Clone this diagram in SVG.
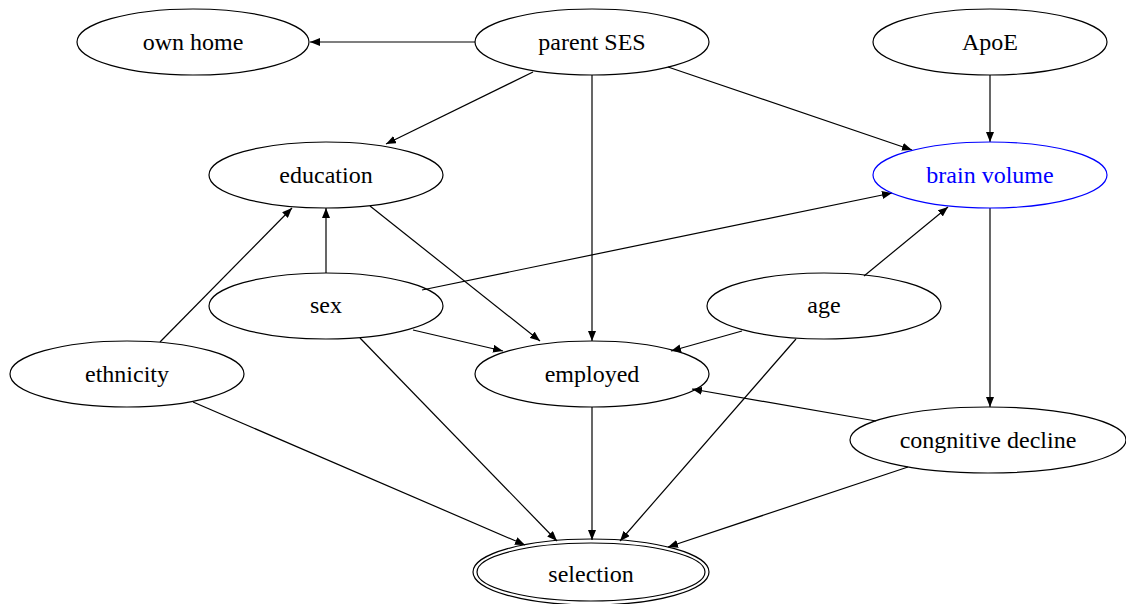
<svg xmlns="http://www.w3.org/2000/svg" width="1126" height="604" viewBox="0 0 1126 604">
<defs>
<marker id="ah" markerWidth="11" markerHeight="8" refX="10" refY="4" orient="auto" markerUnits="userSpaceOnUse">
<path d="M0,0 L10,4 L0,8 Z" fill="#000"/>
</marker>
<style>
.n ellipse{fill:none;stroke:#000;stroke-width:1.2}
.n text{font-family:"Liberation Serif","DejaVu Serif",serif;font-size:24px;text-anchor:middle;fill:#000}
#brain ellipse{stroke:#0000ff}
#brain text{fill:#0000ff}
#edges line{stroke:#000;stroke-width:1.2;marker-end:url(#ah)}
</style>
</defs>
<rect width="1126" height="604" fill="#fff"/>
<g id="edges">
<line x1="475" y1="42" x2="310" y2="42"/>
<line x1="533" y1="72" x2="386" y2="144"/>
<line x1="592" y1="75" x2="592" y2="341"/>
<line x1="668" y1="67" x2="912" y2="150"/>
<line x1="990" y1="75" x2="990" y2="142"/>
<line x1="326" y1="273" x2="326" y2="208"/>
<line x1="422" y1="290" x2="892" y2="193"/>
<line x1="413" y1="330" x2="503" y2="351"/>
<line x1="360" y1="338" x2="557" y2="541"/>
<line x1="370" y1="206" x2="540" y2="341"/>
<line x1="160" y1="342" x2="292" y2="208"/>
<line x1="193" y1="402" x2="525" y2="545"/>
<line x1="864" y1="276" x2="948" y2="207"/>
<line x1="742" y1="331" x2="671" y2="351"/>
<line x1="796" y1="339" x2="620" y2="541"/>
<line x1="592" y1="407" x2="592" y2="540"/>
<line x1="990" y1="208" x2="990" y2="407"/>
<line x1="876" y1="421" x2="692" y2="389"/>
<line x1="908" y1="467" x2="668" y2="547"/>
</g>
<g id="ownhome" class="n"><ellipse cx="193" cy="42" rx="116" ry="33"/><text x="193" y="50">own home</text></g>
<g id="parentses" class="n"><ellipse cx="592" cy="42" rx="117" ry="33"/><text x="592" y="50">parent SES</text></g>
<g id="apoe" class="n"><ellipse cx="990" cy="42" rx="117" ry="33"/><text x="990" y="50">ApoE</text></g>
<g id="education" class="n"><ellipse cx="326" cy="175" rx="117" ry="33"/><text x="326" y="183">education</text></g>
<g id="brain" class="n"><ellipse cx="990" cy="175" rx="117" ry="33"/><text x="990" y="183">brain volume</text></g>
<g id="sex" class="n"><ellipse cx="326" cy="306" rx="117" ry="33"/><text x="326" y="313">sex</text></g>
<g id="age" class="n"><ellipse cx="824" cy="306" rx="117" ry="33"/><text x="824" y="313">age</text></g>
<g id="ethnicity" class="n"><ellipse cx="127" cy="374" rx="117" ry="33"/><text x="127" y="382">ethnicity</text></g>
<g id="employed" class="n"><ellipse cx="592" cy="374" rx="117" ry="33"/><text x="592" y="382">employed</text></g>
<g id="decline" class="n"><ellipse cx="988" cy="440" rx="138" ry="33"/><text x="988" y="448">congnitive decline</text></g>
<g id="selection" class="n"><ellipse cx="591" cy="572" rx="118" ry="33"/><ellipse cx="591" cy="572" rx="114" ry="29"/><text x="591" y="582">selection</text></g>
</svg>
